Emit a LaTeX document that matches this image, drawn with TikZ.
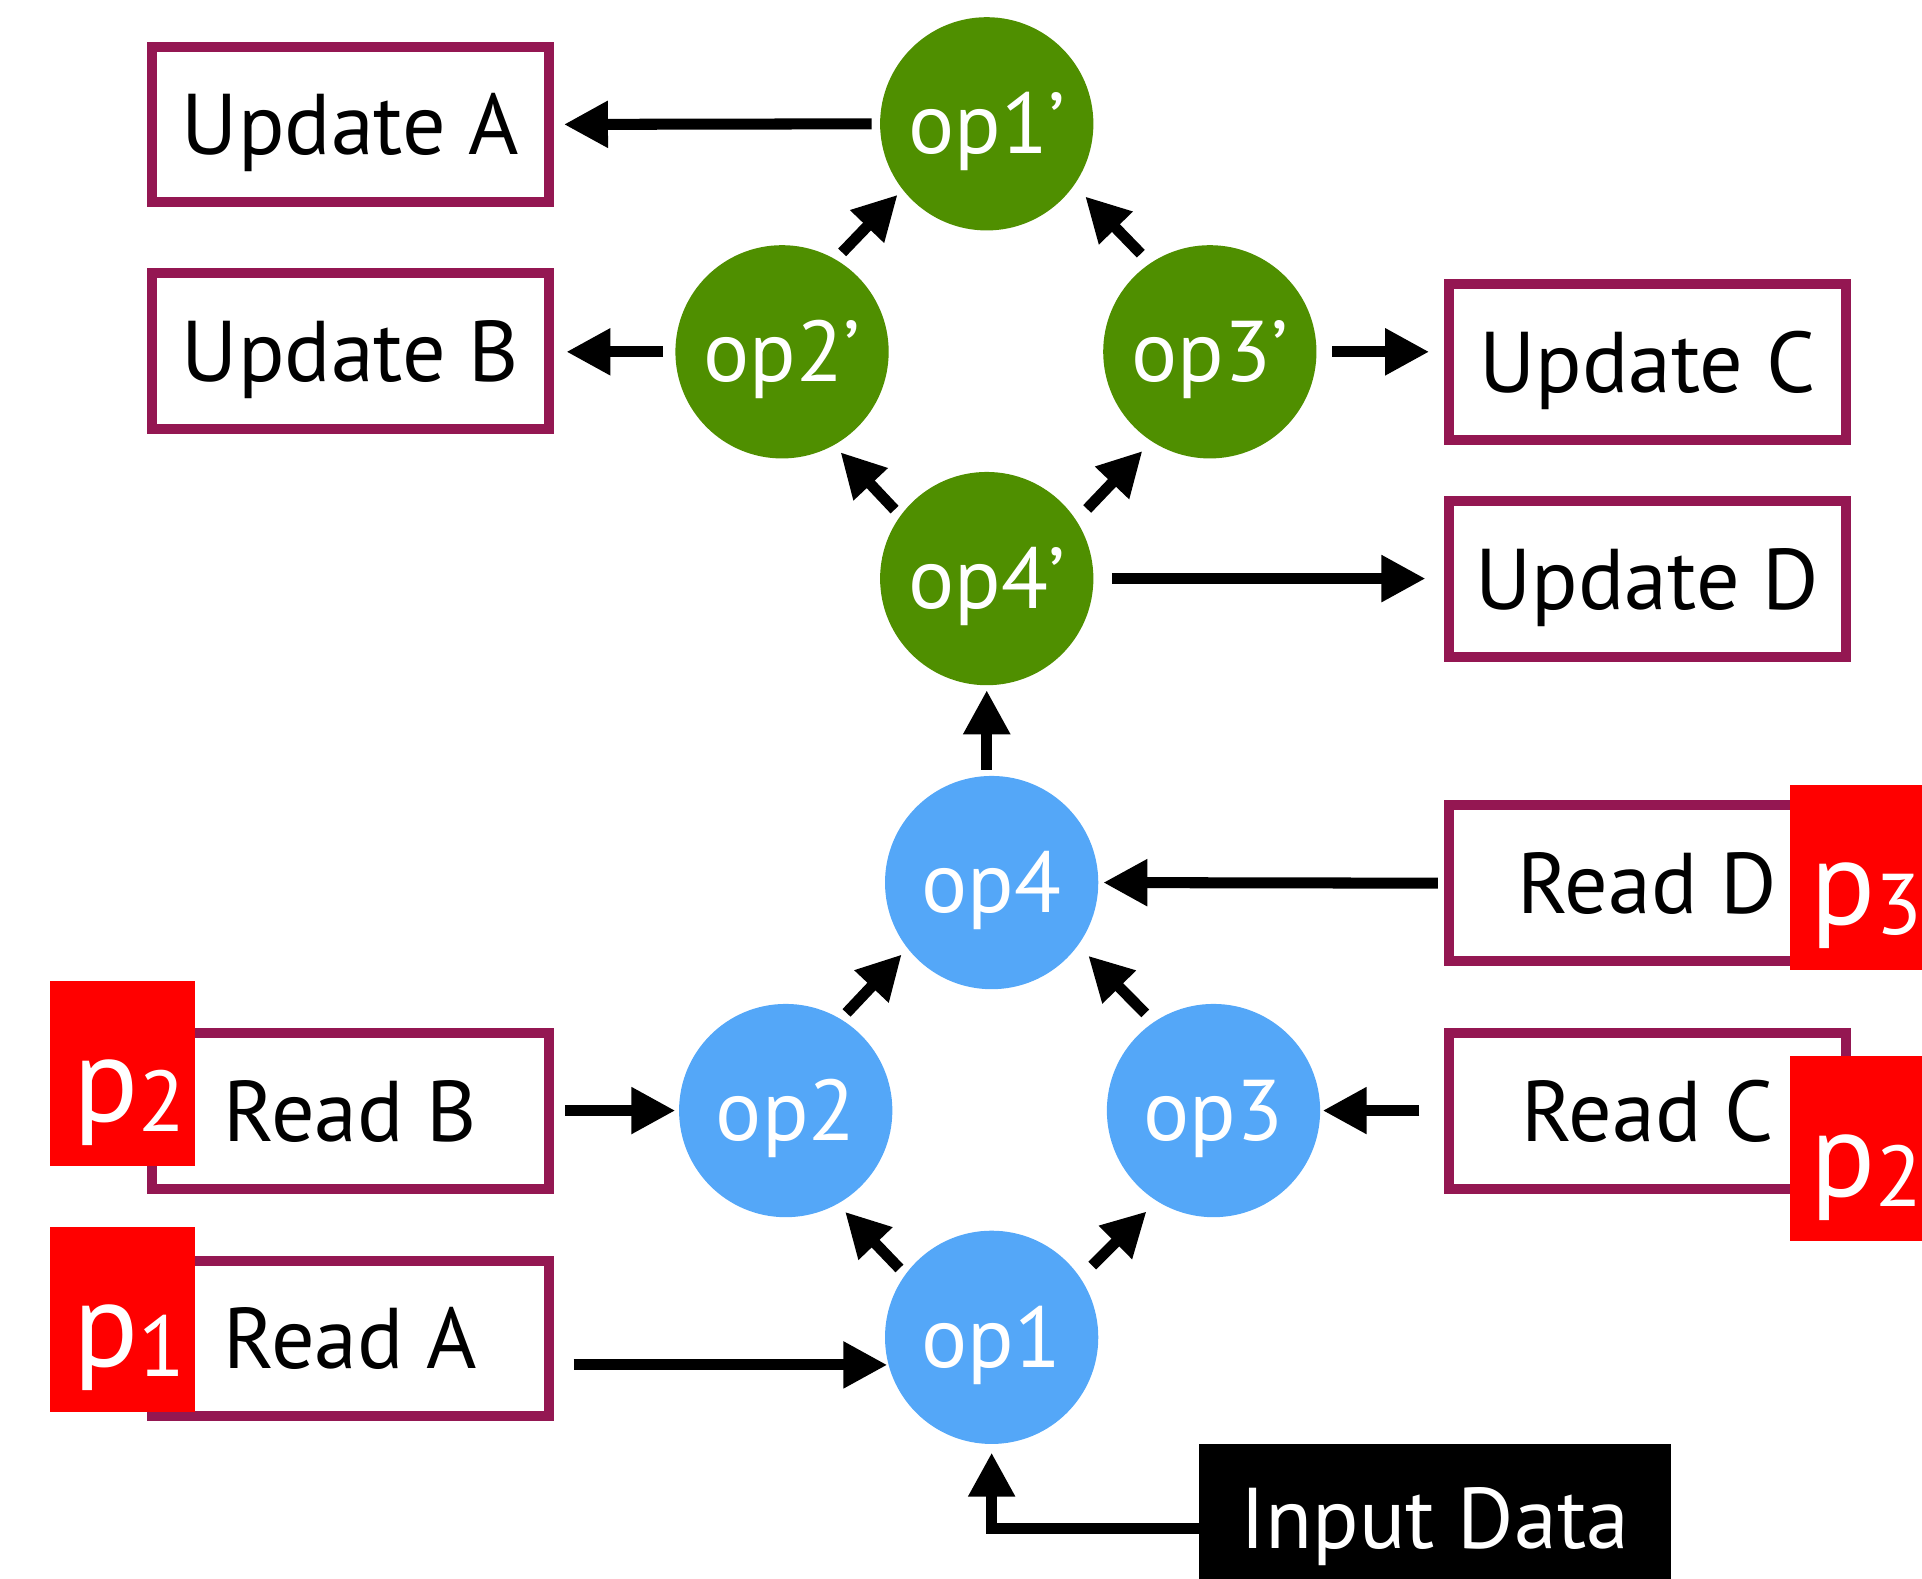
\documentclass[tikz,border=0pt]{standalone}
\usepackage{fontspec}
\setmainfont{PT Sans}
\usetikzlibrary{arrows.meta,calc}

\definecolor{opgreen}{RGB}{79,143,0}
\definecolor{opblue}{RGB}{84,167,248}
\definecolor{boxframe}{RGB}{148,23,82}
\definecolor{tagred}{RGB}{255,0,0}

\newcommand{\lblfont}{\fontsize{20}{24}\selectfont}
\newcommand{\tagp}[1]{\raisebox{0.8mm}{\fontsize{28}{30}\selectfont p}{\fontsize{20}{24}\selectfont #1}}

\begin{document}
\begin{tikzpicture}[x=0.1mm,y=-0.1mm,
  every node/.style={inner sep=0pt, outer sep=0pt},
  opnode/.style={circle, minimum size=17.4mm, text=white, font=\lblfont,
    text height=14pt, text depth=0pt},
  updop/.style={opnode, fill=opgreen},
  readop/.style={opnode, fill=opblue},
  framebox/.style={draw=boxframe, line width=0.8mm, fill=white,
    minimum width=32.4mm, minimum height=12.7mm, font=\lblfont,
    text height=14pt, text depth=0pt},
  tagbox/.style={fill=tagred, minimum width=11.8mm, minimum height=15.1mm},
  tagtext/.style={text=white, anchor=base west},
  arr/.style={line width=0.9mm, -{Triangle[length=3.6mm, width=3.6mm]}}
]
\useasboundingbox (0,0) rectangle (1568,1288);
\clip (0,0) rectangle (1568,1288);

% update stage (green)
\node[updop] (u1) at (805,101) {op1’};
\node[updop] (u2) at (638,287) {op2’};
\node[updop] (u3) at (987,287) {op3’};
\node[updop] (u4) at (805,472) {op4’};

% read stage (blue)
\node[readop] (r4) at (809,720) {op4};
\node[readop] (r2) at (641,906) {op2};
\node[readop] (r3) at (990,906) {op3};
\node[readop] (r1) at (809,1091) {op1};

% update boxes
\node[framebox] (UA) at (286,101.5) {Update A};
\node[framebox] (UB) at (286,286.5) {Update B};
\node[framebox] (UC) at (1344,295.5) {Update C};
\node[framebox] (UD) at (1344,472.5) {Update D};

% read boxes
\node[framebox] (RD) at (1344,720.5) {Read D};
\node[framebox] (RC) at (1344,906.5) {Read C};
\node[framebox] (RB) at (286,906.5) {Read B};
\node[framebox] (RA) at (286,1092) {Read A};

% processor tags
\node[tagbox] (tB) at (100,876) {};
\node[tagbox] (tA) at (100,1076.5) {};
\node[tagbox] (tD) at (1519,715.5) {};
\node[tagbox] (tC) at (1519,937) {};
\node[tagtext] (tBl) at (60,923) {\tagp{2}};
\node[tagtext] (tAl) at (60,1123) {\tagp{1}};
\node[tagtext] (tDl) at (1477,762.5) {\tagp{3}};
\node[tagtext] (tCl) at (1477,984) {\tagp{2}};

% input
\node[fill=black, text=white, minimum width=38.5mm, minimum height=12.2mm,
  font=\lblfont, text height=14pt, text depth=0pt] (ID) at (1170.5,1239) {Input Data};

% update stage arrows
\draw[arr, shorten <=0.7mm, shorten >=1.2mm] (u1.west) -- (UA.east);
\draw[arr, shorten <=1mm, shorten >=1.4mm] (u2.west) -- (u2.west -| UB.east);
\draw[arr, shorten <=1.3mm, shorten >=1.6mm] (u3.east) -- (u3.east -| UC.west);
\draw[arr, shorten <=1.5mm, shorten >=1.9mm] (u4.east) -- (u4.east -| UD.west);
\draw[arr, shorten <=0.8mm, shorten >=0.6mm] (u2.60) -- (u1.218);
\draw[arr, shorten <=1.1mm, shorten >=1.3mm] (u3.124) -- (u1.325);
\draw[arr, shorten <=0.7mm, shorten >=0.8mm] (u4.144) -- (u2.299);
\draw[arr, shorten <=1.3mm, shorten >=1.1mm] (u4.33) -- (u3.237);

% read stage arrows
\draw[arr, shorten <=0.5mm, shorten >=0.4mm] (r4.north -| u4.south) -- (u4.south);
\draw[arr, shorten <=0.9mm, shorten >=0.4mm] (RD.west) -- (r4.east);
\draw[arr, shorten <=1.3mm, shorten >=0.3mm] (RB.east |- r2.west) -- (r2.west);
\draw[arr, shorten <=2.4mm, shorten >=0.2mm] (RC.west |- r3.east) -- (r3.east);
\draw[arr, shorten <=2mm, shorten >=0.1mm] (RA.east |- r1.195) -- (r1.195);
\draw[arr, shorten <=0.7mm, shorten >=0.7mm] (r2.59) -- (r4.218);
\draw[arr, shorten <=1mm, shorten >=1.2mm] (r3.124) -- (r4.324);
\draw[arr, shorten <=0.7mm, shorten >=0.9mm] (r1.144) -- (r2.299);
\draw[arr, shorten <=1.4mm, shorten >=1.2mm] (r1.34) -- (r3.238);
\coordinate (inJoin) at ([yshift=-0.8mm]ID.west -| r1.south);
\draw[arr, shorten >=0.7mm] ([yshift=-0.8mm]ID.west) -- (inJoin) -- (r1.south);
\end{tikzpicture}
\end{document}
